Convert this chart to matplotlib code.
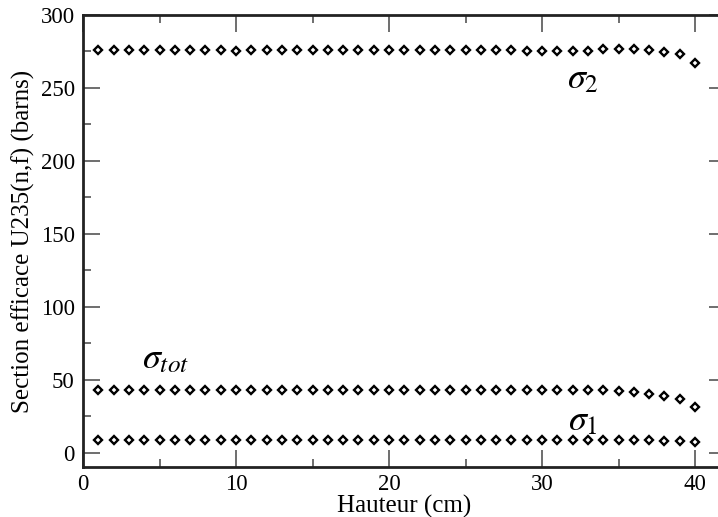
import matplotlib
matplotlib.use("Agg")
import matplotlib.pyplot as plt
import numpy as np

plt.rcParams['font.family'] = ['Liberation Serif', 'DejaVu Serif']
plt.rcParams['mathtext.fontset'] = 'stix'

hauteur = list(range(1, 41))

sigma_2 = [276, 276, 276, 276, 276, 276, 276, 276, 276, 275.6,
           276, 276, 276, 276, 276, 276, 276, 276, 276, 276,
           276, 276, 276, 276, 276, 276, 276, 276, 275.5, 275.5,
           275.5, 275.5, 275.5, 276.4, 276.4, 276.4, 276.2, 274.6, 273.3, 267.1]

sigma_tot = [43.2, 43.2, 43.2, 43.2, 43.2, 43.2, 43.2, 43.2, 43.2, 43.2,
             43.2, 43.2, 43.2, 43.2, 43.2, 43.2, 43.2, 43.2, 43.2, 43.2,
             43.1, 43.1, 43.1, 43.1, 43.1, 43.0, 43.0, 43.0, 42.9, 42.9,
             42.9, 42.9, 42.9, 42.7, 42.2, 41.5, 40.3, 38.8, 36.5, 31.5]

sigma_1 = [8.6, 8.6, 8.6, 8.6, 8.6, 8.6, 8.6, 8.6, 8.6, 8.6,
           8.6, 8.6, 8.6, 8.6, 8.6, 8.6, 8.6, 8.6, 8.6, 8.6,
           8.6, 8.6, 8.6, 8.6, 8.6, 8.6, 8.6, 8.6, 8.6, 8.6,
           8.6, 8.6, 8.6, 8.5, 8.5, 8.5, 8.4, 8.3, 8.0, 7.1]

x_ticks = [0, 10, 20, 30, 40]
y_ticks = [0, 50, 100, 150, 200, 250, 300]

fig = plt.figure(figsize=(7.18, 5.17), dpi=100)
ax = fig.add_axes([0.1156, 0.0961, 0.895, 0.875])

style = dict(linestyle='none', marker='D', markersize=4.4,
             markerfacecolor='white', markeredgecolor='black',
             markeredgewidth=1.7, clip_on=False)
for series in (sigma_2, sigma_tot, sigma_1):
    ax.plot(hauteur, series, **style)

ax.set_xlim(0, 42)
ax.set_ylim(-10, 300)
ax.set_xticks(x_ticks)
ax.set_yticks(y_ticks)
ax.set_xticks(np.arange(5, 42, 10), minor=True)
ax.set_yticks(np.arange(25, 300, 50), minor=True)
ax.tick_params(which='major', direction='in', length=12, width=1.2,
               labelsize=16.5, top=True, right=True, color='#555555', pad=6)
ax.tick_params(axis='x', which='major', pad=5)
ax.tick_params(which='minor', direction='in', length=6, width=1.2,
               top=True, right=True, color='#555555')
for s in ax.spines.values():
    s.set_linewidth(2.0)
    s.set_color('#222222')

ax.set_xlabel('Hauteur (cm)', fontsize=18, labelpad=0)
ax.set_ylabel('Section efficace U235(n,f) (barns)', fontsize=18, labelpad=4)

ax.text(32.7, 255.5, r'$\sigma_2$', fontsize=26, ha='center', va='center')
ax.text(5.4, 64, r'$\sigma_{tot}$', fontsize=26, ha='center', va='center')
ax.text(32.7, 21, r'$\sigma_1$', fontsize=26, ha='center', va='center')

fig.savefig('out.png', dpi=100)
